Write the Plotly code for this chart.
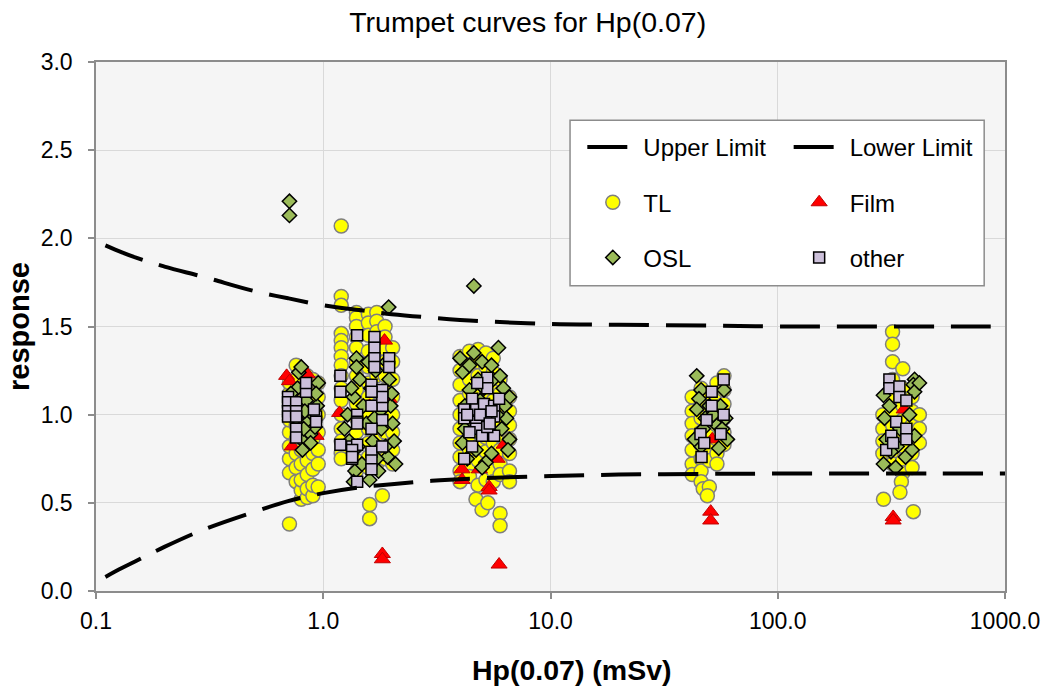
import plotly.graph_objects as go

# ---------------- data ----------------
limit_x = [0.11, 0.13, 0.15, 0.2, 0.3, 0.5, 0.7, 1.0, 1.5, 2.0, 3.0, 5.0, 10.0, 20.0, 50.0, 100.0, 200.0, 500.0, 1000.0]
upper_y = [1.96, 1.92, 1.89, 1.84, 1.78, 1.70, 1.66, 1.62, 1.59, 1.57, 1.55, 1.53, 1.515, 1.51, 1.505, 1.50, 1.50, 1.50, 1.50]
lower_y = [0.08, 0.13, 0.17, 0.25, 0.35, 0.45, 0.51, 0.555, 0.59, 0.605, 0.625, 0.64, 0.652, 0.66, 0.664, 0.666, 0.667, 0.667, 0.667]

tl_points = [
    # ~0.7-0.95 mSv
    (0.71, 0.38), (0.71, 0.67), (0.71, 0.75), (0.71, 0.82), (0.71, 0.90), (0.71, 0.97), (0.71, 1.05), (0.71, 1.12), (0.71, 1.18),
    (0.76, 0.62), (0.76, 0.70), (0.76, 0.78), (0.76, 0.86), (0.76, 0.94), (0.76, 1.02), (0.76, 1.10), (0.76, 1.20), (0.76, 1.28),
    (0.80, 0.52), (0.80, 0.57), (0.80, 0.63), (0.80, 0.72), (0.80, 0.80), (0.80, 0.88), (0.80, 0.96), (0.80, 1.04), (0.80, 1.15), (0.80, 1.25),
    (0.85, 0.53), (0.85, 0.58), (0.85, 0.66), (0.85, 0.74), (0.85, 0.84), (0.85, 0.92), (0.85, 1.00), (0.85, 1.08), (0.85, 1.17), (0.85, 1.22),
    (0.90, 0.54), (0.90, 0.60), (0.90, 0.69), (0.90, 0.78), (0.90, 0.86), (0.90, 0.95), (0.90, 1.03), (0.90, 1.12), (0.90, 1.20),
    (0.95, 0.59), (0.95, 0.72), (0.95, 0.80), (0.95, 0.90), (0.95, 1.00), (0.95, 1.10), (0.95, 1.18),
    # ~1.2-2.1 mSv
    (1.20, 2.07), (1.20, 1.67), (1.20, 1.62), (1.20, 1.46), (1.20, 1.42), (1.20, 1.38), (1.20, 1.33), (1.20, 1.28), (1.20, 1.22),
    (1.20, 1.15), (1.20, 1.08), (1.20, 1.00), (1.20, 0.92), (1.20, 0.85), (1.20, 0.78), (1.20, 0.75),
    (1.40, 1.58), (1.40, 1.55), (1.40, 1.50), (1.40, 1.44), (1.40, 1.38), (1.40, 1.30), (1.40, 1.22), (1.40, 1.14), (1.40, 1.06),
    (1.40, 0.98), (1.40, 0.90), (1.40, 0.82), (1.40, 0.74), (1.40, 0.68),
    (1.58, 1.57), (1.58, 1.52), (1.58, 1.45), (1.58, 1.36), (1.58, 1.27), (1.58, 1.18), (1.58, 1.10), (1.58, 1.00), (1.58, 0.92),
    (1.58, 0.84), (1.58, 0.76), (1.58, 0.70), (1.60, 0.49), (1.60, 0.41),
    (1.72, 1.58), (1.72, 1.53), (1.72, 1.47), (1.72, 1.40), (1.72, 1.31), (1.72, 1.22), (1.72, 1.13), (1.72, 1.05), (1.72, 0.96),
    (1.72, 0.88), (1.72, 0.80), (1.72, 0.72),
    (1.87, 1.50), (1.87, 1.44), (1.87, 1.37), (1.87, 1.30), (1.87, 1.22), (1.87, 1.14), (1.87, 1.06), (1.87, 0.98), (1.87, 0.90),
    (1.87, 0.82), (1.87, 0.75), (1.82, 0.54),
    (2.02, 1.38), (2.02, 1.30), (2.02, 1.20), (2.02, 1.10), (2.02, 1.00), (2.02, 0.90), (2.02, 0.80), (2.02, 0.72),
    # ~4-7 mSv
    (4.0, 1.33), (4.0, 1.25), (4.0, 1.17), (4.0, 1.08), (4.0, 1.00), (4.0, 0.92), (4.0, 0.84), (4.0, 0.76), (4.0, 0.68), (4.0, 0.62),
    (4.4, 1.36), (4.4, 1.28), (4.4, 1.20), (4.4, 1.12), (4.4, 1.04), (4.4, 0.96), (4.4, 0.88), (4.4, 0.80), (4.4, 0.72), (4.4, 0.65),
    (4.8, 1.37), (4.8, 1.30), (4.8, 1.22), (4.8, 1.14), (4.8, 1.06), (4.8, 0.98), (4.8, 0.90), (4.8, 0.82), (4.8, 0.74),
    (4.8, 0.60), (4.7, 0.52), (5.0, 0.46),
    (5.2, 1.35), (5.2, 1.27), (5.2, 1.19), (5.2, 1.11), (5.2, 1.03), (5.2, 0.95), (5.2, 0.87), (5.2, 0.79), (5.2, 0.71),
    (5.2, 0.63), (5.3, 0.50),
    (5.6, 1.32), (5.6, 1.24), (5.6, 1.16), (5.6, 1.08), (5.6, 1.00), (5.6, 0.92), (5.6, 0.84), (5.6, 0.76), (5.6, 0.68), (5.6, 0.62),
    (6.0, 1.20), (6.0, 1.12), (6.0, 1.04), (6.0, 0.96), (6.0, 0.88), (6.0, 0.80), (6.0, 0.72), (6.0, 0.66), (6.0, 0.44), (6.0, 0.37),
    (6.6, 1.10), (6.6, 1.02), (6.6, 0.94), (6.6, 0.86), (6.6, 0.78), (6.6, 0.68), (6.6, 0.62),
    # ~42-60 mSv
    (42, 1.10), (42, 1.02), (42, 0.95), (42, 0.88), (42, 0.80), (42, 0.72), (42, 0.66),
    (46, 1.15), (46, 1.06), (46, 0.98), (46, 0.90), (46, 0.83), (46, 0.75), (46, 0.68), (46, 0.62), (47, 0.58),
    (50, 1.12), (50, 1.04), (50, 0.96), (50, 0.89), (50, 0.81), (50, 0.74), (50, 0.59), (49, 0.54),
    (54, 1.18), (54, 1.10), (54, 1.02), (54, 0.94), (54, 0.86), (54, 0.78), (54, 0.72),
    (58, 1.22), (58, 1.14), (58, 1.06), (58, 0.98), (58, 0.90), (58, 0.83),
    # ~290-420 mSv
    (290, 1.00), (290, 0.92), (290, 0.85), (290, 0.78), (292, 0.52),
    (320, 1.47), (320, 1.40), (320, 1.30), (320, 1.20), (320, 1.10), (320, 1.02), (320, 0.94), (320, 0.86), (320, 0.78), (320, 0.72),
    (355, 1.26), (355, 1.15), (355, 1.05), (355, 0.97), (355, 0.90), (355, 0.82), (355, 0.74), (355, 0.67), (350, 0.62), (345, 0.56),
    (390, 1.10), (390, 1.02), (390, 0.94), (390, 0.86), (390, 0.78), (390, 0.70), (395, 0.45),
    (420, 1.00), (420, 0.92), (420, 0.84),
]

film_points = [
    (0.69, 1.22), (0.71, 1.19), (0.85, 1.23), (0.73, 0.82), (0.93, 0.88),
    (1.82, 0.21), (1.82, 0.18), (1.86, 1.42), (1.18, 1.01), (1.95, 1.09), (1.60, 1.05),
    (4.08, 0.69), (4.08, 0.63), (5.37, 0.59), (5.37, 0.57), (6.25, 0.83), (5.82, 0.75), (5.94, 0.15), (4.86, 0.69),
    (50.7, 0.45), (50.7, 0.40), (51.5, 0.86),
    (322, 0.42), (322, 0.40), (360, 1.03),
]

osl_points = [
    (0.71, 2.21), (0.71, 2.13), (0.78, 1.24), (0.80, 1.27), (0.95, 1.18), (0.77, 1.15), (0.72, 1.12), (0.94, 1.05),
    (0.80, 0.86), (0.81, 0.80), (0.88, 0.89), (0.86, 0.96), (0.90, 1.00), (0.84, 1.08), (0.92, 0.93), (0.76, 0.98),
    (0.82, 0.92), (0.88, 0.84), (0.83, 1.02), (0.93, 1.12),
    (1.94, 1.61), (1.40, 1.32), (1.40, 1.27), (1.36, 1.10), (1.24, 0.92), (1.92, 0.76), (1.38, 0.68), (1.60, 0.63),
    (1.36, 0.62), (1.28, 1.00), (1.30, 0.85), (1.45, 1.20), (1.50, 1.05), (1.55, 0.95), (1.62, 1.15), (1.65, 0.85),
    (1.70, 1.25), (1.72, 0.75), (1.78, 1.02), (1.80, 0.92), (1.85, 1.12), (1.88, 0.82), (1.95, 1.20), (1.98, 1.05),
    (2.02, 0.95), (2.05, 0.85), (2.08, 0.72), (1.48, 0.72), (1.58, 1.30), (1.68, 0.98), (1.75, 0.68), (1.42, 0.82),
    (1.90, 1.30), (2.00, 1.12), (1.33, 1.15),
    (4.6, 1.73), (5.9, 1.38), (4.6, 1.35), (5.0, 1.30), (4.1, 1.24), (5.5, 1.28), (6.6, 1.10), (4.4, 1.14),
    (4.1, 0.84), (5.2, 0.73), (6.6, 0.86), (4.2, 1.05), (4.5, 0.95), (4.8, 1.20), (5.1, 1.15), (5.6, 1.20),
    (6.0, 1.22), (6.3, 1.05), (4.3, 0.75), (4.7, 0.80), (5.0, 0.70), (5.5, 0.78), (6.1, 0.92), (6.4, 0.98),
    (4.0, 1.32), (4.9, 1.08), (5.8, 1.00), (5.4, 0.90), (4.4, 1.28), (6.2, 1.15), (4.2, 0.92), (6.5, 0.80),
    (44, 1.22), (46, 1.14), (45, 1.09), (44, 1.03), (58, 1.14), (54, 0.94), (60, 0.86), (55, 0.81),
    (46, 0.82), (43, 0.86), (48, 0.98), (50, 1.05), (52, 1.00), (57, 0.92), (47, 0.92), (56, 1.05), (59, 0.98),
    (400, 1.20), (395, 1.17), (400, 1.13), (292, 1.11), (295, 0.98), (292, 0.72), (365, 0.76), (400, 0.88),
    (335, 0.82), (315, 0.79), (310, 1.05), (380, 1.00), (345, 0.92), (300, 0.86), (390, 0.80), (420, 1.18), (330, 0.70),
]

other_points = [
    (0.70, 1.10), (0.70, 1.07), (0.70, 1.02), (0.70, 0.99), (0.76, 1.07), (0.76, 1.02), (0.76, 0.99), (0.76, 0.92),
    (0.76, 0.87), (0.84, 1.13), (0.84, 1.18), (0.93, 0.99), (0.93, 0.96), (0.91, 1.03),
    (1.41, 1.45), (1.68, 1.44), (1.68, 1.38), (1.68, 1.32), (1.68, 1.27), (1.95, 1.32), (1.95, 1.27), (1.19, 1.22),
    (1.19, 1.13), (1.63, 1.17), (1.82, 1.14), (1.82, 1.05), (1.82, 0.97), (1.63, 0.92), (1.41, 1.00), (1.41, 0.96),
    (1.19, 0.83), (1.34, 0.82), (1.41, 0.83), (1.34, 0.75), (1.63, 0.79), (1.63, 0.74), (1.63, 0.69), (1.82, 0.82),
    (1.41, 0.62), (1.63, 1.05), (1.34, 0.80), (1.41, 0.95), (1.82, 1.10), (1.34, 0.76), (1.63, 1.13),
    (5.27, 1.21), (5.27, 1.15), (4.76, 1.18), (4.52, 1.09), (4.17, 1.03), (4.17, 0.98), (4.71, 1.03), (5.1, 1.06),
    (5.65, 1.05), (5.65, 0.99), (5.21, 0.97), (4.71, 0.96), (4.71, 0.92), (5.65, 0.88), (4.52, 0.82), (4.17, 0.75),
    (5.94, 1.09), (5.0, 0.88), (5.27, 0.93), (4.3, 1.00), (5.5, 1.02), (4.9, 1.00), (5.4, 0.95), (4.4, 0.90),
    (57.8, 1.20), (51.2, 1.13), (51.2, 1.05), (57.8, 1.00), (48.6, 0.97), (45.7, 0.89), (56.1, 0.89), (47.5, 0.84), (46.2, 0.76),
    (310, 1.20), (310, 1.15), (343, 1.16), (343, 1.10), (368, 1.08), (332, 0.96), (368, 0.92), (368, 0.86),
    (316, 0.88), (300, 0.80), (322, 0.84),
]

x_tickvals = [0.1, 1, 10, 100, 1000]
x_ticktext = ["0.1", "1.0", "10.0", "100.0", "1000.0"]
y_tickvals = [0.0, 0.5, 1.0, 1.5, 2.0, 2.5, 3.0]
y_ticktext = ["0.0", "0.5", "1.0", "1.5", "2.0", "2.5", "3.0"]

# ---------------- figure ----------------
FONT = "Arial, 'Liberation Sans', sans-serif"
fig = go.Figure()


def xs(pts):
    return [p[0] for p in pts]


def ys(pts):
    return [p[1] for p in pts]


fig.add_trace(go.Scatter(
    x=xs(tl_points), y=ys(tl_points), mode="markers", name="TL",
    legend="legend", legendgroup="tl", legendrank=2,
    marker=dict(symbol="circle", size=14, color="#ffff00", line=dict(color="#7f7f7f", width=1.5)),
))
fig.add_trace(go.Scatter(
    x=xs(film_points), y=ys(film_points), mode="markers", name="Film",
    legend="legend2", legendgroup="film", legendrank=2,
    marker=dict(symbol="triangle-up", size=14, color="#ff0000", line=dict(color="#c00000", width=1)),
))
fig.add_trace(go.Scatter(
    x=xs(osl_points), y=ys(osl_points), mode="markers", name="OSL",
    legend="legend", legendgroup="osl", legendrank=3,
    marker=dict(symbol="diamond", size=11, color="#9bbb59", line=dict(color="#000000", width=1.5)),
))
fig.add_trace(go.Scatter(
    x=xs(other_points), y=ys(other_points), mode="markers", name="other",
    legend="legend2", legendgroup="other", legendrank=3,
    marker=dict(symbol="square", size=11, color="#ccc0da", line=dict(color="#000000", width=1.5)),
))
fig.add_trace(go.Scatter(
    x=limit_x, y=upper_y, mode="lines", name="Upper Limit",
    legend="legend", legendgroup="up", legendrank=1,
    line=dict(color="#000000", width=4, dash="40px,17px", shape="spline"),
))
fig.add_trace(go.Scatter(
    x=limit_x, y=lower_y, mode="lines", name="Lower Limit",
    legend="legend2", legendgroup="low", legendrank=1,
    line=dict(color="#000000", width=4, dash="40px,17px", shape="spline"),
))

legend_common = dict(
    font=dict(family=FONT, size=24, color="#000000"),
    bgcolor="rgba(0,0,0,0)", borderwidth=0,
    traceorder="grouped", tracegroupgap=21,
    xanchor="left", yanchor="top", itemwidth=51,
)

fig.update_layout(
    width=1047, height=689,
    margin=dict(l=96, r=42, t=62, b=98),
    paper_bgcolor="#ffffff",
    plot_bgcolor="#f5f5f5",
    font=dict(family=FONT, size=23, color="#000000"),
    title=dict(text="Trumpet curves for Hp(0.07)", x=0.504, xanchor="center",
               y=1 - 22 / 689, yanchor="middle", yref="container",
               font=dict(family=FONT, size=28.5, color="#000000")),
    legend=dict(x=0.535, y=0.881, **legend_common),
    legend2=dict(x=0.762, y=0.881, **legend_common),
    shapes=[dict(type="rect", xref="paper", yref="paper",
                 x0=0.5215, x1=0.9771, y0=0.577, y1=0.890,
                 fillcolor="#ffffff", line=dict(color="#8c8c8c", width=1.5), layer="above")],
    annotations=[dict(text="<b>Hp(0.07) (mSv)</b>", xref="paper", yref="paper",
                      x=(572 - 96) / 909, y=(591 - 688) / 529,
                      xanchor="center", yanchor="bottom", showarrow=False,
                      font=dict(family=FONT, size=28.5, color="#000000"))],
    showlegend=True,
)

fig.update_xaxes(
    type="log", range=[-1, 3],
    tickvals=x_tickvals, ticktext=x_ticktext,
    showgrid=True, gridcolor="#d9d9d9", gridwidth=1,
    showline=True, linecolor="#8c8c8c", linewidth=1.5, mirror=True,
    ticks="outside", ticklen=6, tickcolor="#8c8c8c", tickwidth=1.5,
    ticklabelstandoff=3,
    tickfont=dict(family=FONT, size=23, color="#000000"),
    zeroline=False, automargin=False,
)
fig.update_yaxes(
    range=[0, 3],
    tickvals=y_tickvals, ticktext=y_ticktext,
    showgrid=True, gridcolor="#d9d9d9", gridwidth=1,
    showline=True, linecolor="#8c8c8c", linewidth=1.5, mirror=True,
    ticks="outside", ticklen=6, tickcolor="#8c8c8c", tickwidth=1.5,
    ticklabelstandoff=11,
    tickfont=dict(family=FONT, size=23, color="#000000"),
    zeroline=False, automargin=False,
    title=dict(text="<b>response</b>", standoff=3,
               font=dict(family=FONT, size=29, color="#000000")),
)

fig.write_html("out.html")
